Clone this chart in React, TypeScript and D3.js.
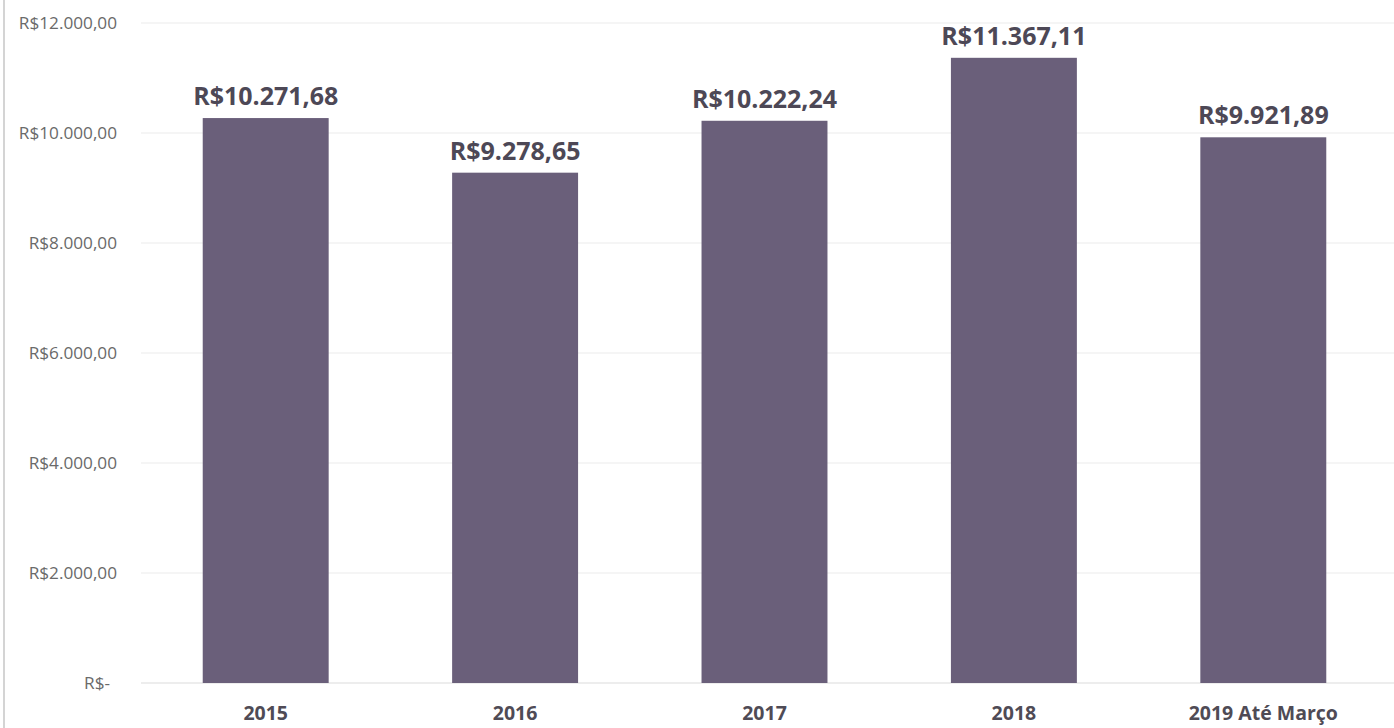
import * as d3 from 'd3';
import React from 'react';

const categories = ['2015', '2016', '2017', '2018', '2019 Até Março'];
const values = [10271.68, 9278.65, 10222.24, 11367.11, 9921.89];
const valueLabels = ['R$10.271,68', 'R$9.278,65', 'R$10.222,24', 'R$11.367,11', 'R$9.921,89'];
const yTicks = [0, 2000, 4000, 6000, 8000, 10000, 12000];
const yTickLabels = ['R$-', 'R$2.000,00', 'R$4.000,00', 'R$6.000,00', 'R$8.000,00', 'R$10.000,00', 'R$12.000,00'];

const W = 1394;
const H = 728;
const margin = { top: 23, right: 6, bottom: 45, left: 141 };
const font = '"Open Sans", "Noto Sans", sans-serif';

const App: React.FC = () => {
  const width = W - margin.left - margin.right;
  const height = H - margin.top - margin.bottom;

  const x = d3.scaleBand()
    .domain(categories)
    .range([0, width])
    .paddingInner(0.495)
    .paddingOuter(0.2475);

  const y = d3.scaleLinear()
    .domain([0, 12000])
    .range([height, 0]);

  return (
    <svg width={W} height={H} style={{ position: 'absolute', left: 0, top: 0, background: '#fff' }}>
      <line x1={4} x2={4} y1={0} y2={H} stroke="#d4d4d4" strokeWidth={2} />
      <g transform={`translate(${margin.left}, ${margin.top})`}>
        {yTicks.map((t, i) => (
          <g key={t}>
            <line x1={0} x2={width + margin.right} y1={y(t)} y2={y(t)}
              stroke={i === 0 ? '#dcdcdc' : '#ececec'} strokeWidth={1.2} />
            <text x={-24 - (i === 0 ? 7 : 0)} y={y(t)} dy="0.35em" textAnchor="end"
              fontFamily={font} fontSize={17.2} fill="#6a6a6a">{yTickLabels[i]}</text>
          </g>
        ))}
        {categories.map((c, i) => (
          <g key={c}>
            <rect x={x(c)} y={y(values[i])} width={x.bandwidth()} height={height - y(values[i])}
              fill="#6a5f7a" />
            <text x={(x(c) ?? 0) + x.bandwidth() / 2} y={y(values[i]) - 13} textAnchor="middle"
              fontFamily={font} fontWeight="bold" fontSize={25} fill="#4d4856">{valueLabels[i]}</text>
            <text x={(x(c) ?? 0) + x.bandwidth() / 2} y={height + 37} textAnchor="middle"
              fontFamily={font} fontWeight="bold" fontSize={19.5} fill="#4f4b55">{c}</text>
          </g>
        ))}
      </g>
    </svg>
  );
};

export default App;
